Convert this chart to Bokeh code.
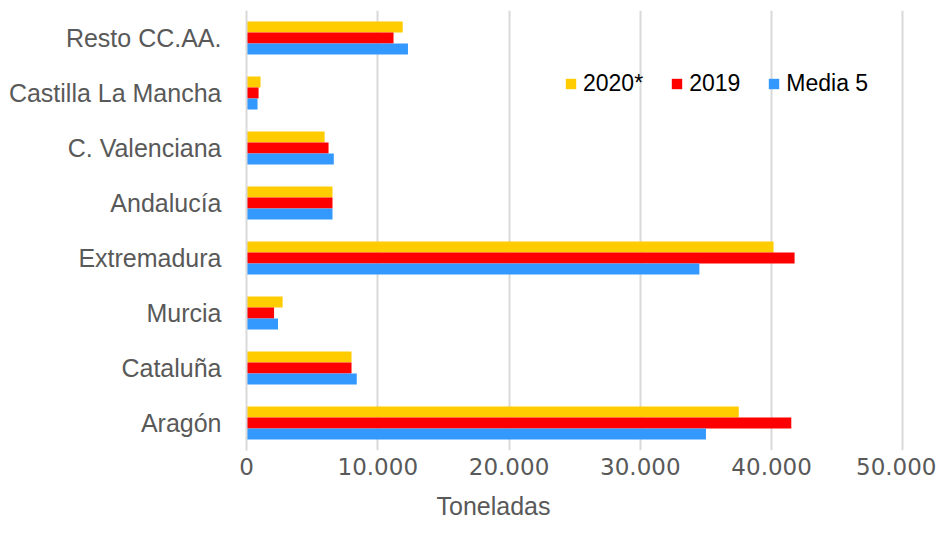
from bokeh.plotting import figure
from bokeh.models import FactorRange, Range1d, FixedTicker, Legend, LegendItem, Title, ColumnDataSource
from bokeh.transform import dodge
from bokeh.embed import file_html
from bokeh.resources import INLINE

categories = ["Aragón", "Cataluña", "Murcia", "Extremadura", "Andalucía",
              "C. Valenciana", "Castilla La Mancha", "Resto CC.AA."]
v2020 = [37500, 8000, 2750, 40150, 6550, 5950, 1070, 11900]
v2019 = [41500, 8000, 2100, 41750, 6550, 6250, 920, 11200]
media5 = [35000, 8400, 2400, 34500, 6550, 6650, 840, 12300]
series_names = ["2020*", "2019", "Media 5"]
colors = ["#FFCC00", "#FF0000", "#3399FF"]
x_ticks = [0, 10000, 20000, 30000, 40000, 50000]
x_tick_labels = ["0", "10.000", "20.000", "30.000", "40.000", "50.000"]
x_title = "Toneladas"

FONT = "Liberation Sans"

src = ColumnDataSource(dict(cat=categories, a=v2020, b=v2019, c=media5))

p = figure(y_range=FactorRange(*categories, range_padding=0), x_range=Range1d(0, 50200),
           frame_width=659, frame_height=440, width=936, height=525,
           min_border_left=246, min_border_right=31, min_border_top=10, min_border_bottom=75,
           output_backend="svg", toolbar_location=None)

rs = []
for col, off, colr in zip(["a", "b", "c"], [0.2, 0.0, -0.2], colors):
    r = p.hbar(y=dodge("cat", off, range=p.y_range), right=col, left=0, height=0.2,
               source=src, fill_color=colr, line_color=None)
    rs.append(r)

legend = Legend(items=[LegendItem(label=n, renderers=[r]) for n, r in zip(series_names, rs)],
                orientation="horizontal", location=(318, 353),
                glyph_width=13, glyph_height=13, label_standoff=6, spacing=27,
                padding=0, margin=0, background_fill_alpha=0, border_line_alpha=0,
                label_text_font=FONT, label_text_font_size="23px", label_text_color="#000000",
                label_height=24)
p.add_layout(legend)

p.outline_line_color = None
p.ygrid.grid_line_color = None
p.xgrid.grid_line_color = "#D9D9D9"
p.xgrid.grid_line_width = 2
p.xgrid.ticker = FixedTicker(ticks=x_ticks)

p.xaxis.ticker = FixedTicker(ticks=x_ticks)
p.xaxis.major_label_overrides = {t: l for t, l in zip(x_ticks, x_tick_labels)}
p.xaxis.axis_line_color = None
p.xaxis.major_tick_line_color = None
p.xaxis.minor_tick_line_color = None
p.xaxis.major_tick_out = 0
p.xaxis.major_label_standoff = 7
p.xaxis.major_label_text_font = "DejaVu Sans"
p.xaxis.major_label_text_font_size = "23px"
p.xaxis.major_label_text_color = "#595959"

p.yaxis.axis_line_color = "#D9D9D9"
p.yaxis.axis_line_width = 2
p.yaxis.major_tick_line_color = None
p.yaxis.minor_tick_line_color = None
p.yaxis.major_tick_out = 0
p.yaxis.major_label_standoff = 25
p.yaxis.major_label_text_font = FONT
p.yaxis.major_label_text_font_size = "25px"
p.yaxis.major_label_text_color = "#595959"

title = Title(text=x_title, align="left", offset=190, standoff=24,
              text_font=FONT, text_font_size="25px", text_font_style="normal",
              text_color="#595959")
p.add_layout(title, "below")

open("out.html", "w").write(file_html(p, INLINE))
